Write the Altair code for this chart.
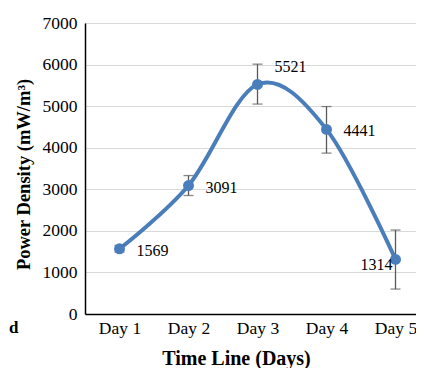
import altair as alt
import pandas as pd

days = ["Day 1", "Day 2", "Day 3", "Day 4", "Day 5"]
power = [1569, 3091, 5521, 4441, 1314]
err_low = [1490, 2850, 5050, 3870, 600]
err_high = [1650, 3330, 6010, 4990, 2020]

df = pd.DataFrame({
    "day": days,
    "idx": list(range(1, len(days) + 1)),
    "power": power,
    "lo": err_low,
    "hi": err_high,
})

FONT = "Liberation Serif"
BLUE = "#4a7ebb"

x = alt.X(
    "idx:Q",
    scale=alt.Scale(domain=[0.5, 5.297], nice=False, zero=False),
    axis=alt.Axis(
        values=[1, 2, 3, 4, 5],
        labelExpr="'Day ' + datum.value",
        title="Time Line (Days)",
        grid=False,
        ticks=False,
        domainColor="black",
        domainWidth=1.5,
        labelFont=FONT,
        labelFontSize=17.5,
        labelColor="black",
        labelPadding=5,
        titleFont=FONT,
        titleFontSize=20,
        titleFontWeight="bold",
        titleColor="black",
        titleX=151,
        titleY=44,
        titleBaseline="middle",
    ),
)
y = alt.Y(
    "power:Q",
    scale=alt.Scale(domain=[0, 7000], nice=False),
    axis=alt.Axis(
        values=[0, 1000, 2000, 3000, 4000, 5000, 6000, 7000],
        format="d",
        title="Power Density (mW/m³)",
        grid=True,
        gridColor="#d9d9d9",
        gridWidth=1.2,
        ticks=False,
        domainColor="black",
        domainWidth=1.5,
        labelFont=FONT,
        labelFontSize=17.5,
        labelColor="black",
        labelPadding=8,
        titleFont=FONT,
        titleFontSize=18.5,
        titleFontWeight="bold",
        titleColor="black",
        titleX=-62,
        titleY=151,
        titleBaseline="middle",
    ),
)

base = alt.Chart(df)

line = base.mark_line(color=BLUE, strokeWidth=4, interpolate="cardinal", tension=0).encode(x=x, y=y)

err = base.mark_rule(color="#595959", strokeWidth=1.3).encode(x="idx:Q", y="lo:Q", y2="hi:Q")
cap_lo = base.mark_tick(color="#595959", thickness=1.3, size=10, orient="horizontal").encode(x="idx:Q", y="lo:Q")
cap_hi = base.mark_tick(color="#595959", thickness=1.3, size=10, orient="horizontal").encode(x="idx:Q", y="hi:Q")

pts = base.mark_point(filled=True, color=BLUE, size=120, opacity=1).encode(x="idx:Q", y="power:Q")

lab_right = base.transform_filter("datum.idx == 1 || datum.idx == 2 || datum.idx == 4").mark_text(
    font=FONT, fontSize=16, color="black", align="left", dx=17, dy=2
).encode(x="idx:Q", y="power:Q", text=alt.Text("power:Q", format="d"))
lab_top = base.transform_filter("datum.idx == 3").mark_text(
    font=FONT, fontSize=16, color="black", align="left", dx=17, dy=-17
).encode(x="idx:Q", y="power:Q", text=alt.Text("power:Q", format="d"))
lab_left = base.transform_filter("datum.idx == 5").mark_text(
    font=FONT, fontSize=16, color="black", align="right", dx=-3, dy=6
).encode(x="idx:Q", y="power:Q", text=alt.Text("power:Q", format="d"))

frag = alt.Chart(pd.DataFrame({"t": ["d"]})).mark_text(
    font=FONT, fontSize=17, fontWeight="bold", color="black", align="left", baseline="middle"
).encode(x=alt.value(-76), y=alt.value(305), text="t:N")

chart = alt.layer(line, err, cap_lo, cap_hi, pts, lab_right, lab_top, lab_left, frag).properties(
    width=331, height=291,
    autosize=alt.AutoSizeParams(type="none"),
    padding={"left": 77, "top": 15, "right": 0, "bottom": 54},
).configure_view(stroke=None).configure(background="white")

chart.save("out.html", embed_options={"renderer": "svg", "actions": False})
